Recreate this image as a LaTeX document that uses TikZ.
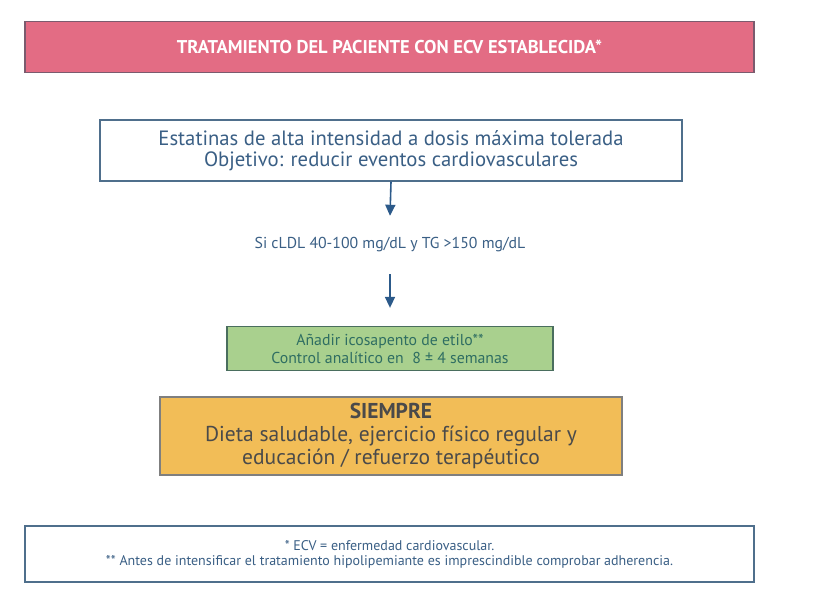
\documentclass[tikz,border=0pt]{standalone}
\usepackage{fontspec}
\setmainfont{PT Sans}
\usetikzlibrary{arrows.meta}
\definecolor{titlefill}{HTML}{E36C84}
\definecolor{titledraw}{HTML}{7B5B6E}
\definecolor{bluedraw}{HTML}{4F6F8C}
\definecolor{bluetext}{HTML}{3A5F85}
\definecolor{arrowcol}{HTML}{2C5A8A}
\definecolor{greenfill}{HTML}{A9D08E}
\definecolor{greendraw}{HTML}{4A6E5E}
\definecolor{greentext}{HTML}{2F6E62}
\definecolor{orangefill}{HTML}{F2BD57}
\definecolor{orangedraw}{HTML}{7F7F7F}
\definecolor{graytext}{HTML}{4A4A4A}
\tikzset{
  box/.style={draw, line width=1.3pt, rectangle, align=center, inner sep=0pt},
  flow/.style={draw=arrowcol, line width=1.6pt, -{Triangle[width=10pt,length=11pt]}},
}
\begin{document}
\begin{tikzpicture}[x=1pt,y=-1pt]
\useasboundingbox (0,0) rectangle (814,601);
\fill[white] (0,0) rectangle (814,601);
\node[box, draw=titledraw, fill=titlefill, minimum width=729pt, minimum height=51pt, text=white,
  font=\fontsize{18.5}{21}\selectfont\bfseries] (title) at (389.5,47) {TRATAMIENTO DEL PACIENTE CON ECV ESTABLECIDA*};
\node[box, draw=bluedraw, fill=white, minimum width=582pt, minimum height=61pt, text=bluetext,
  font=\fontsize{20.7}{21}\selectfont] (stat) at (391,150.5) {Estatinas de alta intensidad a dosis máxima tolerada\\Objetivo: reducir eventos cardiovasculares};
\node[align=center, inner sep=0pt, minimum height=58pt, text=bluetext,
  font=\fontsize{15.8}{16}\selectfont] (cond) at (390,245) {Si cLDL 40-100 mg/dL y TG >150 mg/dL};
\node[box, draw=greendraw, fill=greenfill, minimum width=326pt, minimum height=44pt, text=greentext,
  font=\fontsize{15.8}{18}\selectfont] (ico) at (390,348.5) {Añadir icosapento de etilo**\\Control analítico en~~8 ± 4 semanas};
\node[box, draw=orangedraw, fill=orangefill, minimum width=462pt, minimum height=78pt, text=graytext,
  font=\fontsize{21.5}{23}\selectfont] (always) at (391,436) {\textbf{SIEMPRE}\\Dieta saludable, ejercicio físico regular y\\educación / refuerzo terapéutico};
\node[box, draw=bluedraw, fill=white, minimum width=729pt, minimum height=56pt, text=bluetext,
  font=\fontsize{14}{15}\selectfont] (foot) at (389.5,554) {* ECV = enfermedad cardiovascular.\\** Antes de intensificar el tratamiento hipolipemiante es imprescindible comprobar adherencia.};
\draw[flow] (stat.south) -- (cond.north);
\draw[flow, shorten >=18pt] (cond.south) -- (ico.north);
\end{tikzpicture}
\end{document}
